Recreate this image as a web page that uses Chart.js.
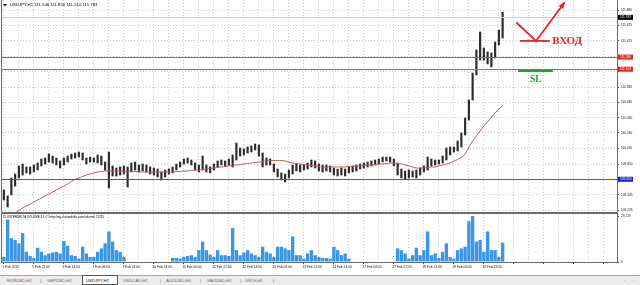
<!DOCTYPE html>
<html><head><meta charset="utf-8">
<script src="https://cdn.jsdelivr.net/npm/chart.js@4.4.1/dist/chart.umd.min.js"></script>
<style>
html,body{margin:0;padding:0;background:#fff;}
body{width:640px;height:285px;position:relative;overflow:hidden;}
#mainBox{position:absolute;left:0;top:0;width:640px;height:213px;}
#volBox{position:absolute;left:0;top:213px;width:640px;height:62px;}
#tabs{position:absolute;left:0;top:275px;width:640px;height:10px;background:#ececec;border-top:1px solid #a8a8a8;box-sizing:border-box;}
.t{position:absolute;top:1.5px;white-space:nowrap;font-family:"Liberation Sans",sans-serif;font-size:8.6px;line-height:10px;transform:scale(0.5);transform-origin:0 0;color:#606060;}
#active{position:absolute;left:82px;top:-1px;width:36px;height:10px;background:#fff;border:1px solid #555;box-sizing:border-box;}
</style></head>
<body>
<div id="mainBox"><canvas id="main"></canvas></div>
<div id="volBox"><canvas id="vol"></canvas></div>
<div id="tabs">
 <div id="active"></div>
 <span class="t" style="left:7px">EURUSD,H1</span>
 <span class="t" style="left:40px">|</span>
 <span class="t" style="left:47px">GBPUSD,H1</span>
 <span class="t" style="left:86px;color:#000">USDJPY,H1</span>
 <span class="t" style="left:123px">USDCAD,H1</span>
 <span class="t" style="left:160px">|</span>
 <span class="t" style="left:166px">AUDUSD,H4</span>
 <span class="t" style="left:200px">|</span>
 <span class="t" style="left:207px">XAUUSD,H1</span>
 <span class="t" style="left:240px">|</span>
 <span class="t" style="left:245px">USOil,H1</span>
 <span class="t" style="left:273px">|</span>
 <span class="t" style="left:624px;color:#999">‹</span>
 <span class="t" style="left:633px;color:#999">›</span>
</div>
<script>
// ---- data (2-hour bars, USDJPY H1 chart) ----
const tickLabels = ['5 Feb 2020','5 Feb 22:00','6 Feb 14:00','7 Feb 06:00','7 Feb 22:00','10 Feb 14:05','11 Feb 06:00','11 Feb 22:00','12 Feb 14:00','13 Feb 06:00','13 Feb 22:00','14 Feb 14:00','17 Feb 06:05','17 Feb 22:05','18 Feb 14:00','19 Feb 06:00','19 Feb 22:00'];

const highs = [109.509,109.430,109.667,109.719,109.825,109.851,109.812,109.812,109.838,109.864,
109.917,109.930,109.983,109.956,109.930,109.891,109.930,109.956,109.983,109.996,
110.009,109.996,109.930,109.943,109.930,109.970,109.956,109.877,110.009,109.825,
109.798,109.812,109.825,109.812,109.864,109.877,109.838,109.851,109.838,109.812,
109.798,109.785,109.746,109.772,109.785,109.812,109.851,109.877,109.917,109.930,
109.904,109.864,109.838,109.956,109.838,109.812,109.851,109.891,109.904,109.891,
109.917,109.970,110.128,110.062,110.049,110.075,110.088,110.115,110.101,109.996,
109.930,109.917,109.851,109.785,109.733,109.719,109.772,109.838,109.851,109.838,
109.838,109.864,109.904,109.891,109.851,109.838,109.838,109.825,109.798,109.785,
109.798,109.785,109.812,109.825,109.838,109.851,109.864,109.877,109.891,109.904,
109.917,109.943,109.943,109.943,109.917,109.864,109.785,109.759,109.772,109.759,
109.772,109.798,109.825,109.943,109.917,109.904,109.904,109.956,110.062,110.075,
110.075,110.154,110.259,110.457,110.694,111.050,111.353,111.590,111.379,111.327,
111.314,111.458,111.617,111.850];

const lows = [109.377,109.285,109.443,109.561,109.667,109.706,109.733,109.719,109.746,109.772,
109.825,109.851,109.877,109.864,109.838,109.798,109.838,109.877,109.917,109.930,
109.943,109.904,109.851,109.877,109.877,109.864,109.838,109.772,109.535,109.693,
109.693,109.706,109.719,109.548,109.746,109.772,109.746,109.759,109.746,109.719,
109.706,109.680,109.640,109.680,109.719,109.733,109.772,109.812,109.851,109.864,
109.838,109.772,109.746,109.772,109.746,109.733,109.772,109.812,109.838,109.825,
109.838,109.812,109.904,109.956,109.970,109.996,110.009,110.036,109.956,109.812,
109.838,109.838,109.746,109.680,109.640,109.614,109.667,109.719,109.759,109.746,
109.772,109.785,109.812,109.798,109.759,109.746,109.759,109.746,109.706,109.693,
109.706,109.693,109.733,109.746,109.759,109.785,109.798,109.812,109.825,109.838,
109.851,109.877,109.891,109.877,109.825,109.706,109.667,109.653,109.667,109.680,
109.667,109.706,109.746,109.772,109.825,109.838,109.851,109.864,109.904,109.970,
110.009,110.022,110.075,110.233,110.431,110.694,111.024,111.221,111.221,111.169,
111.129,111.248,111.419,111.510];

const movingAvg = [109.126,109.153,109.179,109.206,109.238,109.271,109.298,109.324,109.350,109.377,
109.403,109.430,109.456,109.482,109.509,109.535,109.561,109.588,109.621,109.647,
109.667,109.686,109.706,109.719,109.733,109.746,109.752,109.759,109.759,109.759,
109.759,109.759,109.759,109.752,109.752,109.752,109.746,109.746,109.746,109.746,
109.746,109.746,109.746,109.746,109.746,109.746,109.752,109.752,109.759,109.759,
109.765,109.772,109.772,109.778,109.785,109.792,109.798,109.805,109.812,109.818,
109.825,109.831,109.838,109.844,109.851,109.858,109.864,109.871,109.877,109.884,
109.891,109.897,109.897,109.897,109.897,109.891,109.877,109.864,109.858,109.851,
109.844,109.838,109.831,109.825,109.818,109.812,109.812,109.812,109.812,109.812,
109.812,109.812,109.818,109.818,109.825,109.825,109.831,109.838,109.838,109.844,
109.851,109.851,109.858,109.864,109.864,109.858,109.851,109.838,109.825,109.812,
109.798,109.798,109.798,109.805,109.812,109.812,109.825,109.838,109.851,109.864,
109.891,109.910,109.937,109.983,110.075,110.154,110.220,110.286,110.352,110.405,
110.470,110.523,110.576,110.615];

const volume = [3240,27000,15120,14040,11880,18360,6480,3890,2590,9070,
6480,4320,5400,6050,6480,5400,13390,10370,4320,3890,
2160,9720,5400,3240,3240,6480,8640,11880,19440,12960,
7560,6480,3240,null,null,null,null,null,null,null,
null,null,null,null,null,2590,2590,2160,3240,3890,
4320,3240,7560,12960,7560,4750,3240,7560,4320,4320,
3890,21600,7560,4320,6050,7560,5400,4320,3240,9720,
6480,5400,3240,9720,9720,8640,7560,16200,4320,4320,
2160,5400,7560,4320,3240,2590,2590,2160,9720,7560,
4320,5400,2160,null,null,null,null,null,null,null,
null,null,null,null,null,8640,7560,5400,2160,4320,
9070,4320,7560,19440,4320,5400,2590,6480,11880,3240,
2160,7560,8640,9720,25920,29219,12960,14040,6480,19440,
7560,7560,3240,12310];

const priceTicks = [111.880,111.675,111.475,111.270,111.070,110.865,110.665,110.460,110.260,110.055,109.850,109.650,109.445,109.245];
const coveredTicks = [111.270,111.070,109.650];
const volTicks = [0,29219];
const ohlcTitle = 'USDJPY,H1 111.546 111.850 111.510 111.783';
const volTitle = 'CLUSTERDELTA VOLUME 3.1 (© http://my.clusterdelta.com/volume) 11315';
const lastPrice = 111.783;
const levels = [
  {price:111.260, line:'#e04848', box:'#dc2424'},
  {price:111.100, line:'#e04848', box:'#dc2424'},
  {price:109.650, line:'#4848e0', box:'#1c1cc8'}
];
// hand-drawn objects, in (bar index, price) space
const entryArrow = [[136.8,111.709],[141.9,111.472],[149.4,111.972]];
const entryLine = [137.6,145.6,111.472];
const entryLabel = ['ВХОД',146.2,111.472];
const slLine = [137.1,146.4,111.076];
const slLabel = ['SL',140.3,110.958];

const yMin = 109.2187, yMax = 112.0118, volMax = 30500;
const N = 164;
const labels = Array.from({length:N},(_,i)=> (i%8===0 && tickLabels[i/8]) ? tickLabels[i/8] : '');

Chart.defaults.font.family = '"Liberation Sans", "DejaVu Sans", sans-serif';
Chart.defaults.color = '#000';
Chart.defaults.animation = false;

const gridColorX = ctx => (ctx.index % 4 === 0) ? '#cdcdcd' : 'rgba(0,0,0,0)';
const FONT = '"Liberation Sans", "DejaVu Sans", sans-serif';

const mainOverlay = {
  id:'mainOverlay',
  afterDraw(chart){
    const {ctx, chartArea:a, scales:{x,y}} = chart;
    ctx.save();
    const P = (ci,p)=>({x:x.getPixelForValue(ci), y:y.getPixelForValue(p)});
    // bid line
    let yb = Math.round(y.getPixelForValue(lastPrice))+0.5;
    ctx.strokeStyle='#d0d0d0'; ctx.lineWidth=1;
    ctx.beginPath(); ctx.moveTo(a.left, yb); ctx.lineTo(a.right, yb); ctx.stroke();
    // horizontal levels
    levels.forEach(l=>{
      const yy = Math.round(y.getPixelForValue(l.price))+0.5;
      ctx.strokeStyle=l.line; ctx.lineWidth=1;
      ctx.beginPath(); ctx.moveTo(a.left, yy); ctx.lineTo(a.right, yy); ctx.stroke();
    });
    // frame
    ctx.strokeStyle='#6c6c6c'; ctx.lineWidth=1;
    ctx.beginPath(); ctx.moveTo(a.left-0.5,0); ctx.lineTo(a.left-0.5,a.bottom+0.5);
    ctx.lineTo(a.right+0.5,a.bottom+0.5); ctx.lineTo(a.right+0.5,0); ctx.stroke();
    // price boxes
    const box = (price, fill)=>{
      const yy = y.getPixelForValue(price);
      ctx.fillStyle=fill; ctx.fillRect(a.right+1, yy-2.5, 15, 5);
      ctx.fillStyle='#fff'; ctx.font='3.2px '+FONT; ctx.textAlign='left'; ctx.textBaseline='middle';
      ctx.fillText(price.toFixed(3), a.right+3, yy);
    };
    levels.forEach(l=>box(l.price,l.box));
    box(lastPrice,'#000');
    // title
    ctx.fillStyle='#000';
    ctx.beginPath(); ctx.moveTo(3,4); ctx.lineTo(7,4); ctx.lineTo(5,6.5); ctx.closePath(); ctx.fill();
    ctx.font='4.3px '+FONT; ctx.textAlign='left'; ctx.textBaseline='middle';
    ctx.fillText(ohlcTitle, 10, 5);
    // entry arrow
    const red='#e5232b';
    ctx.strokeStyle=red; ctx.lineWidth=1.8; ctx.lineCap='round';
    const pts = entryArrow.map(p=>P(p[0],p[1]));
    ctx.beginPath(); ctx.moveTo(pts[0].x,pts[0].y);
    for(let i=1;i<pts.length;i++) ctx.lineTo(pts[i].x,pts[i].y);
    ctx.stroke();
    const t = pts[pts.length-1], s = pts[pts.length-2];
    const ang = Math.atan2(t.y-s.y, t.x-s.x);
    ctx.fillStyle=red; ctx.beginPath();
    ctx.moveTo(t.x+2*Math.cos(ang), t.y+2*Math.sin(ang));
    ctx.lineTo(t.x-6*Math.cos(ang-0.45), t.y-6*Math.sin(ang-0.45));
    ctx.lineTo(t.x-6*Math.cos(ang+0.45), t.y-6*Math.sin(ang+0.45));
    ctx.closePath(); ctx.fill();
    // entry level line
    let e1 = P(entryLine[0],entryLine[2]), e2 = P(entryLine[1],entryLine[2]);
    ctx.lineWidth=1.8; ctx.lineCap='butt';
    ctx.beginPath(); ctx.moveTo(e1.x,e1.y); ctx.lineTo(e2.x,e2.y); ctx.stroke();
    const el = P(entryLabel[1],entryLabel[2]);
    ctx.font='bold 11px "Liberation Serif", serif'; ctx.fillStyle=red; ctx.textBaseline='middle';
    ctx.fillText(entryLabel[0], el.x, el.y);
    // SL
    const green='#22a22e';
    let s1 = P(slLine[0],slLine[2]), s2 = P(slLine[1],slLine[2]);
    ctx.strokeStyle=green; ctx.lineWidth=2;
    ctx.beginPath(); ctx.moveTo(s1.x,s1.y); ctx.lineTo(s2.x,s2.y); ctx.stroke();
    const sl = P(slLabel[1],slLabel[2]);
    ctx.font='bold 9.5px "Liberation Serif", serif'; ctx.fillStyle=green; ctx.textAlign='left';
    ctx.fillText(slLabel[0], sl.x, sl.y);
    ctx.restore();
  }
};

const volOverlay = {
  id:'volOverlay',
  afterDraw(chart){
    const {ctx, chartArea:a} = chart;
    ctx.save();
    ctx.strokeStyle='#6c6c6c'; ctx.lineWidth=1;
    ctx.strokeRect(a.left-0.5, 0.5, a.right-a.left+1, a.bottom);
    ctx.fillStyle='#000'; ctx.font='3px '+FONT; ctx.textAlign='left'; ctx.textBaseline='middle';
    ctx.fillText(volTitle, 3, 4.5);
    ctx.restore();
  }
};

new Chart(document.getElementById('main'), {
  data:{
    labels,
    datasets:[
      {type:'bar', data: highs.map((h,i)=>[lows[i],h]), backgroundColor:'#2b2b2b', barThickness:1.5, order:2},
      {type:'line', data: movingAvg, borderColor:'#b35e5e', borderWidth:1, pointRadius:0, tension:0.3, order:1}
    ]
  },
  options:{
    responsive:true, maintainAspectRatio:false, animation:false,
    plugins:{legend:{display:false}, tooltip:{enabled:false}},
    layout:{padding:{left:2, top:0, right:0, bottom:1}},
    scales:{
      x:{offset:true, grid:{offset:false, color:gridColorX, drawTicks:false}, border:{display:false, dash:[1,2]},
         ticks:{display:false, autoSkip:false, maxRotation:0}},
      y:{position:'right', min:yMin, max:yMax,
         afterBuildTicks:s=>{s.ticks = priceTicks.map(v=>({value:v}));},
         afterFit:s=>{s.width=23; s.paddingTop=0; s.paddingBottom=0;},
         ticks:{autoSkip:false, font:{size:3.2}, padding:2, color:'#111', callback:v=> coveredTicks.includes(v) ? '' : Number(v).toFixed(3)},
         grid:{color:'#cdcdcd', tickLength:2, tickColor:'#555', drawTicks:true},
         border:{display:false, dash:[1,2]}}
    }
  },
  plugins:[mainOverlay]
});

new Chart(document.getElementById('vol'), {
  type:'bar',
  data:{labels, datasets:[{data:volume, backgroundColor:'#3a97e8', barPercentage:1, categoryPercentage:0.9}]},
  options:{
    responsive:true, maintainAspectRatio:false, animation:false,
    plugins:{legend:{display:false}, tooltip:{enabled:false}},
    layout:{padding:{left:2, top:1, right:0, bottom:0}},
    scales:{
      x:{offset:true,
         grid:{offset:false, color:gridColorX, tickColor:ctx=> (ctx.index%8===0) ? '#444' : 'rgba(0,0,0,0)', tickLength:2, drawTicks:true},
         border:{display:false, dash:[1,2]},
         ticks:{autoSkip:false, maxRotation:0, minRotation:0, align:'start', labelOffset:-1.5, padding:1.5, font:{size:3.3}, color:'#111'},
         afterFit:s=>{s.height=13; s.paddingLeft=0; s.paddingRight=0;}},
      y:{position:'right', min:0, max:volMax,
         afterBuildTicks:s=>{s.ticks = volTicks.map(v=>({value:v}));},
         afterFit:s=>{s.width=23; s.paddingTop=0; s.paddingBottom=0;},
         ticks:{autoSkip:false, font:{size:3.2}, padding:2, color:'#111'},
         grid:{drawOnChartArea:false, tickLength:2, tickColor:'#555'},
         border:{display:false}}
    }
  },
  plugins:[volOverlay]
});
</script>
</body></html>
